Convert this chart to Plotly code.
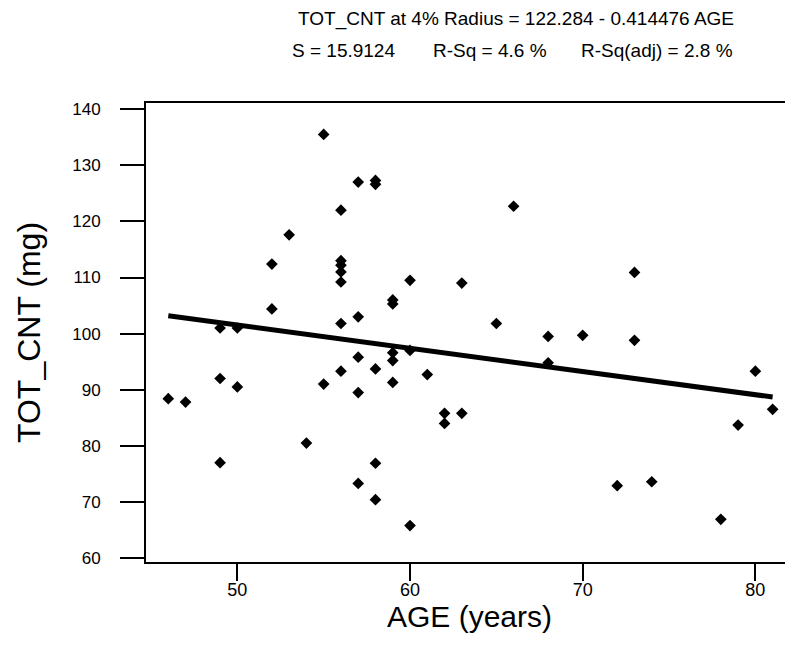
import plotly.graph_objects as go

# AGE (years) vs TOT_CNT at 4% radius (mg)
age = [55, 57, 58, 58, 56, 53, 52, 56, 56, 56, 56, 60, 63, 59, 59, 52, 57, 56, 49, 50,
       66, 65, 68, 70, 73, 73, 46, 47, 49, 50, 49, 54, 55, 56, 57, 57, 58, 59, 59, 59,
       60, 61, 62, 62, 63, 57, 58, 58, 60, 68, 80, 81, 79, 72, 74, 78]
tot_cnt = [135.5, 127.0, 127.3, 126.6, 122.0, 117.6, 112.4, 113.0, 112.2, 111.0, 109.2, 109.5,
           109.0, 106.0, 105.3, 104.4, 103.0, 101.8, 101.0, 101.0, 122.7, 101.8, 99.5, 99.7,
           110.9, 98.8, 88.4, 87.8, 92.0, 90.5, 77.0, 80.5, 91.0, 93.3, 95.8, 89.5, 93.7,
           96.6, 95.2, 91.3, 97.0, 92.7, 85.8, 84.0, 85.8, 73.3, 76.9, 70.4, 65.8, 94.8,
           93.3, 86.5, 83.7, 72.9, 73.6, 66.9]

# fitted line endpoints (TOT_CNT = 122.284 - 0.414476 AGE)
fit_age = [46, 81]
fit_val = [103.2, 88.7]

x_ticks = [50, 60, 70, 80]
y_ticks = [60, 70, 80, 90, 100, 110, 120, 130, 140]

FONT = "Liberation Sans, Arial, sans-serif"

# page body has an 8px margin, so the figure is shrunk by that much
PW = 647  # plot area width in px
def px_x(cx):
    return (cx - 146) / PW

fig = go.Figure()
fig.add_trace(go.Scatter(x=fit_age, y=fit_val, mode="lines",
                         line=dict(color="black", width=5), hoverinfo="skip"))
fig.add_trace(go.Scatter(x=age, y=tot_cnt, mode="markers",
                         marker=dict(symbol="diamond", size=9, color="black")))

fig.update_layout(
    width=785, height=640,
    margin=dict(l=138, r=0, t=95, b=86),
    plot_bgcolor="white", paper_bgcolor="white",
    showlegend=False,
    font=dict(family=FONT, color="black"),
)
fig.update_xaxes(
    range=[44.71, 82.18], tickvals=x_ticks, showgrid=False, zeroline=False,
    showline=True, linecolor="black", linewidth=2, mirror=True,
    ticks="outside", ticklen=17, tickwidth=2, tickcolor="black",
    tickfont=dict(size=18), ticklabelstandoff=-7,
    title=dict(text="AGE (years)", font=dict(size=30), standoff=0),
)
fig.update_yaxes(
    range=[59.3, 141.1], tickvals=y_ticks, showgrid=False, zeroline=False,
    showline=True, linecolor="black", linewidth=2,
    ticks="outside", ticklen=24, tickwidth=2, tickcolor="black",
    tickfont=dict(size=17), ticklabelstandoff=16,
    title=dict(text="TOT_CNT (mg)", font=dict(size=32), standoff=22),
)

fig.add_annotation(text="TOT_CNT at 4% Radius = 122.284 - 0.414476 AGE",
                   xref="paper", yref="paper", x=px_x(516), y=1, yshift=84,
                   xanchor="center", yanchor="middle", showarrow=False,
                   font=dict(size=19))
for txt, cx in [("S = 15.9124", 343), ("R-Sq = 4.6 %", 490), ("R-Sq(adj) = 2.8 %", 657)]:
    fig.add_annotation(text=txt, xref="paper", yref="paper", x=px_x(cx), y=1, yshift=53,
                       xanchor="center", yanchor="middle", showarrow=False,
                       font=dict(size=19))

fig.write_html("out.html")
